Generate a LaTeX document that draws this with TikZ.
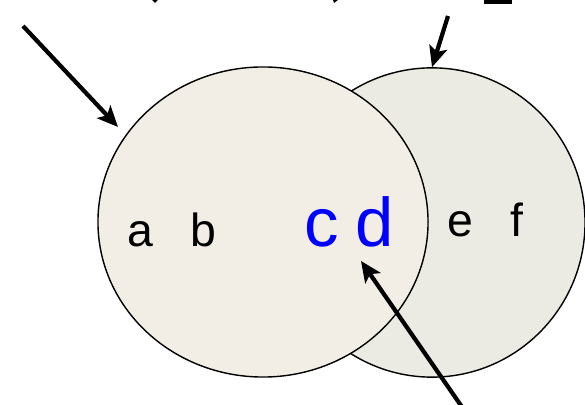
\documentclass[tikz,border=0pt]{standalone}
\usepackage{fontspec}
\setmainfont{Liberation Sans}
\usetikzlibrary{arrows.meta, shapes.geometric}
\definecolor{cleft}{HTML}{F2EEE6}
\definecolor{cright}{HTML}{EBEBE3}
\definecolor{cblue}{HTML}{0000FF}
\tikzset{
  every picture/.style={x=0.025cm, y=-0.025cm},
  set/.style={ellipse, draw=black, fill=#1, line width=1pt, inner sep=0pt},
  letter/.style={anchor=base, inner sep=0pt, font=\fontsize{33}{33}\selectfont},
  bigletter/.style={letter, text=cblue, font=\fontsize{49}{49}\selectfont},
  pointer/.style={-{Stealth[length=5.2mm, width=4.6mm, inset=1.2mm]}, line width=3pt},
}

\begin{document}
\begin{tikzpicture}
  \useasboundingbox (0,0) rectangle (585,405);
  % the two sets
  \node[set=cright, minimum width=7.65cm, minimum height=7.73cm] (rset) at (432,222.5) {};
  \node[set=cleft, minimum width=8.25cm, minimum height=7.75cm] (lset) at (263,222) {};
  % members
  \node[letter] (a) at (140,247) {a};
  \node[letter] (b) at (203,247) {b};
  \node[bigletter] (c) at (322,247) {c};
  \node[bigletter] (d) at (375,247) {d};
  \node[letter] (e) at (460,237) {e};
  \node[letter] (f) at (517,237) {f};
  % pointers
  \coordinate (lfrom) at (23,26);
  \coordinate (lto) at (118,127);
  \coordinate (tfrom) at (448,16);
  \coordinate (bfrom) at (462,407);
  \coordinate (bto) at (361,261);
  \draw[pointer] (lfrom) -- (lto);
  \draw[pointer] (tfrom) -- (rset.north);
  \draw[pointer] (bfrom) -- (bto);
  % cut-off text at the top
  \fill (152,0) -- (158,0) -- (155,3) -- cycle;
  \fill (333,0) -- (338,0) -- (334,3) -- cycle;
  \fill (484,0) rectangle (512,4.5);
\end{tikzpicture}
\end{document}
